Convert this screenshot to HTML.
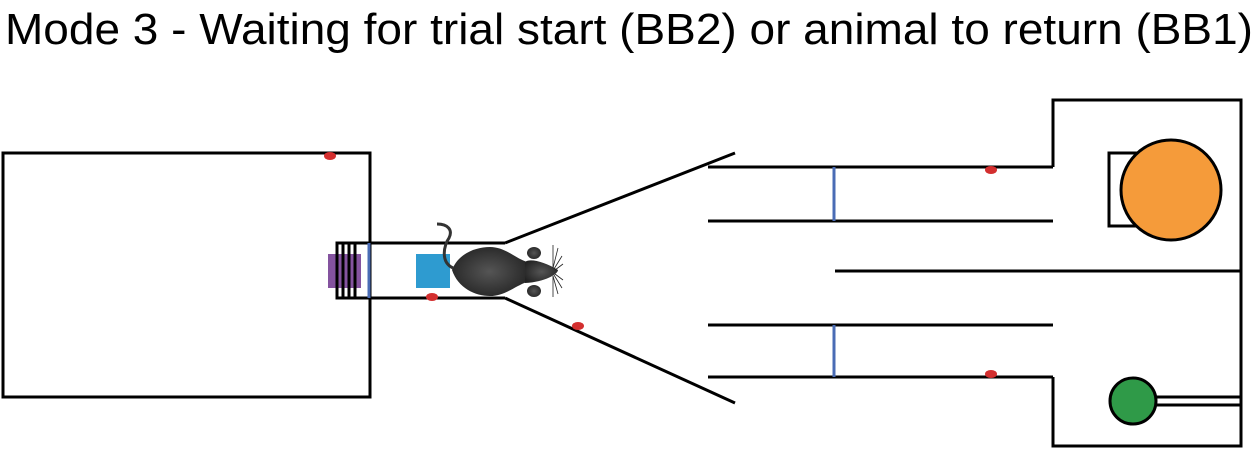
<!DOCTYPE html>
<html><head><meta charset="utf-8"><style>
html,body{margin:0;padding:0;background:#fff;width:1259px;height:450px;overflow:hidden}
</style></head><body>
<svg width="1259" height="450" xmlns="http://www.w3.org/2000/svg">
<defs><radialGradient id="g" cx="0.5" cy="0.5" r="0.6"><stop offset="0" stop-color="#555"/><stop offset="1" stop-color="#222"/></radialGradient></defs>
<text x="5" y="44" font-family="Liberation Sans, sans-serif" font-size="44" textLength="1248" lengthAdjust="spacingAndGlyphs" fill="#000">Mode 3 - Waiting for trial start (BB2) or animal to return (BB1)</text>
<g fill="none" stroke="#000" stroke-width="3">
<rect x="3" y="153" width="367" height="244"/>
<polyline points="505,243 337,243 337,298 505,298"/>
<line x1="505" y1="243" x2="735" y2="153"/>
<line x1="505" y1="298" x2="735" y2="403"/>
<line x1="708" y1="167" x2="1053" y2="167"/>
<line x1="708" y1="221" x2="1053" y2="221"/>
<line x1="708" y1="325" x2="1053" y2="325"/>
<line x1="708" y1="377" x2="1053" y2="377"/>
<polyline points="1053,167 1053,100 1241,100 1241,446 1053,446 1053,377"/>
<line x1="835" y1="271" x2="1241" y2="271"/>
<rect x="1109" y="153" width="32" height="73"/>
<line x1="1156" y1="397" x2="1241" y2="397"/>
<line x1="1156" y1="405" x2="1241" y2="405"/>
</g>
<rect x="328" y="254" width="33" height="34" fill="#7d4a9a" opacity="0.95"/>
<g stroke="#000" stroke-width="3"><line x1="343" y1="243" x2="343" y2="298"/><line x1="349" y1="243" x2="349" y2="298"/><line x1="355" y1="243" x2="355" y2="298"/><line x1="337" y1="243" x2="337" y2="298"/></g>
<g stroke="#4a6cb5" stroke-width="3">
<line x1="369" y1="243" x2="369" y2="298"/>
<line x1="834" y1="167" x2="834" y2="221"/>
<line x1="834" y1="325" x2="834" y2="377"/>
</g>
<rect x="416" y="254" width="34" height="34" fill="#2e9bd0"/>
<g fill="#d32f2f">
<ellipse cx="330" cy="156" rx="6" ry="4"/>
<ellipse cx="432" cy="297" rx="6" ry="4"/>
<ellipse cx="578" cy="326" rx="6" ry="4"/>
<ellipse cx="991" cy="170" rx="6" ry="4"/>
<ellipse cx="991" cy="374" rx="6" ry="4"/>
</g>
<circle cx="1171" cy="190" r="50" fill="#f59b3a" stroke="#000" stroke-width="3"/>
<circle cx="1133" cy="401" r="23" fill="#2f9a48" stroke="#000" stroke-width="3"/>
<g fill="url(#g)">
<path d="M452,270 C458,254 475,247 490,247 C505,247 515,258 527,262 L527,282 C515,286 505,296 490,296 C475,296 458,288 452,270Z"/>
<path d="M525,262 C530,258 545,262 558,270 C558,274 545,282 525,283Z"/>
<ellipse cx="534" cy="253" rx="7" ry="6"/>
<ellipse cx="534" cy="291" rx="7" ry="6"/>
</g>
<path d="M453,268 C440,262 444,245 449,238 C453,230 448,224 437,224" fill="none" stroke="#333" stroke-width="3"/>
<g stroke="#222" stroke-width="0.8" fill="none">
<path d="M553,268 L553,245"/><path d="M553,268 L558,248"/><path d="M554,269 L562,256"/><path d="M555,270 L563,264"/>
<path d="M553,276 L553,297"/><path d="M553,276 L558,294"/><path d="M554,275 L562,288"/><path d="M555,274 L563,280"/>
</g>
</svg>
</body></html>
